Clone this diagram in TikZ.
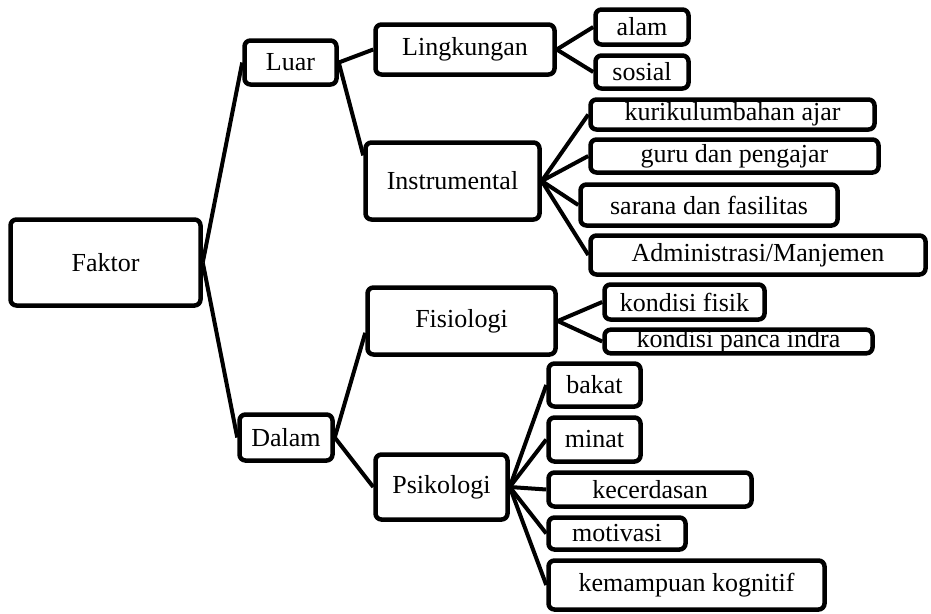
\documentclass[tikz,border=0pt]{standalone}
\usepackage{fontspec}
\setmainfont{Liberation Serif}
\usepackage{tikz}

\tikzset{
  kotak/.style={draw, line width=4.5pt, rounded corners=6pt, inner sep=0pt,
    font=\fontsize{26}{28}\selectfont},
  garis/.style={line width=4pt}
}

\begin{document}
\begin{tikzpicture}[x=1pt,y=-1pt]
\useasboundingbox (0,0) rectangle (931,613);

\node[kotak, minimum width=190, minimum height=86] (faktor) at (105.5,262.5) {Faktor};

\node[kotak, minimum width=92, minimum height=44] (luar) at (290.5,62.5) {Luar};
\node[kotak, minimum width=93, minimum height=46] (dalam) at (286,437.5) {Dalam};

\node[kotak, minimum width=179, minimum height=50] (lingkungan) at (465,49.5) {Lingkungan};
\node[kotak, minimum width=174, minimum height=77] (instrumental) at (452.5,181) {Instrumental};
\node[kotak, minimum width=188, minimum height=67] (fisiologi) at (461.5,321) {Fisiologi};
\node[kotak, minimum width=132, minimum height=65] (psikologi) at (441.5,487) {Psikologi};

\node[kotak, minimum width=93, minimum height=35] (alam) at (642,27) {alam};
\node[kotak, minimum width=93, minimum height=33] (sosial) at (642,72) {sosial};

\node[kotak, minimum width=284, minimum height=30] (kurikulum) at (732.5,114.5) {kurikulumbahan ajar};
\node[kotak, minimum width=288, minimum height=33] (guru) at (734.5,156) {guru dan pengajar};
\node[kotak, minimum width=257, minimum height=41] (sarana) at (709,205) {sarana dan fasilitas};
\node[kotak, minimum width=335, minimum height=39] (admin) at (758,255) {Administrasi/Manjemen};

\node[kotak, minimum width=160, minimum height=35] (fisik) at (684.5,302) {kondisi fisik};
\node[kotak, minimum width=268, minimum height=22] (indra) at (738.5,341.5) {kondisi panca indra};

\node[kotak, minimum width=92, minimum height=43] (bakat) at (594.5,385) {bakat};
\node[kotak, minimum width=92, minimum height=44] (minat) at (594.5,439.5) {minat};
\node[kotak, minimum width=203, minimum height=34] (cerdas) at (650,489.5) {kecerdasan};
\node[kotak, minimum width=137, minimum height=32] (motivasi) at (617,533.5) {motivasi};
\node[kotak, minimum width=276, minimum height=49] (kognitif) at (686.5,585) {kemampuan kognitif};

% cabang utama
\draw[garis] (faktor.east) -- (luar.west);
\draw[garis] (faktor.east) -- (dalam.west);

% faktor luar
\draw[garis] (luar.east) -- (lingkungan.west);
\draw[garis] (luar.east) -- (instrumental.164);
\draw[garis] (lingkungan.east) -- (alam.west);
\draw[garis] (lingkungan.east) -- (sosial.west);
\foreach \anak in {kurikulum,guru,sarana,admin}
  \draw[garis] (instrumental.east) -- (\anak.west);

% faktor dalam
\draw[garis] (dalam.east) -- (fisiologi.187);
\draw[garis] (dalam.east) -- (psikologi.west);
\draw[garis] (fisiologi.east) -- (fisik.west);
\draw[garis] (fisiologi.east) -- (indra.west);
\foreach \anak in {bakat,minat,cerdas,motivasi,kognitif}
  \draw[garis] (psikologi.east) -- (\anak.west);

\end{tikzpicture}
\end{document}
